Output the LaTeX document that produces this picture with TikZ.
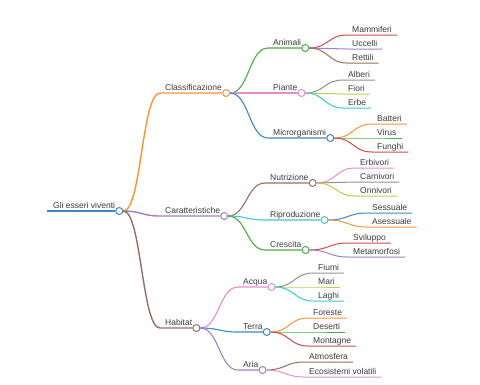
\documentclass[tikz,border=0pt]{standalone}
\usepackage{fontspec}
\setmainfont{Liberation Sans}
\usetikzlibrary{positioning,calc}

\definecolor{cblue}{HTML}{3A88C0}
\definecolor{corange}{HTML}{F99434}
\definecolor{cgreen}{HTML}{47AE47}
\definecolor{cred}{HTML}{D5484A}
\definecolor{cpurple}{HTML}{A17FC6}
\definecolor{cbrown}{HTML}{9A6D63}
\definecolor{cpink}{HTML}{E68DCB}
\definecolor{cgrey}{HTML}{929292}
\definecolor{colive}{HTML}{C6C743}
\definecolor{ccyan}{HTML}{3CC7D6}
\definecolor{ctext}{HTML}{3A3A3A}

\tikzset{
  lbl/.style={anchor=base west, inner sep=0pt, text=ctext, font=\fontsize{8.5}{10}\selectfont},
  dot/.style={circle, draw, fill=white, inner sep=0pt, minimum size=7pt, line width=1pt},
  link/.style={to path={let \p1=(\tikztostart), \p2=(\tikztotarget) in
      .. controls +({0.5*(\x2-\x1)},0) and +({-0.5*(\x2-\x1)},0) .. (\tikztotarget) \tikztonodes}},
  lvl0/.style={line width=2pt},
  lvl1/.style={line width=1.4pt},
  lvl2/.style={line width=1.1pt},
  lvl3/.style={line width=1pt}
}

\begin{document}
\begin{tikzpicture}[x=1pt,y=-1pt]
\useasboundingbox (0,0) rectangle (480,384);

% root
\coordinate (root-s) at (47,211);
\node[lbl] (root-t) at ($(root-s)+(6,-2.5)$) {Gli esseri viventi};
\node[dot, draw=cblue] (root) at ($(root-s -| root-t.east)+(4,0)$) {};
\draw[lvl0, cblue] (root-s) -- (root);

% first level
\foreach \id/\txt/\yy/\col in {cla/Classificazione/93/corange,
                               car/Caratteristiche/216/cpurple,
                               hab/Habitat/328/cbrown}{
  \coordinate (\id-s) at (160,\yy);
  \node[lbl] (\id-t) at ($(\id-s)+(5,-2.5)$) {\txt};
  \node[dot, draw=\col] (\id) at ($(\id-s -| \id-t.east)+(4,0)$) {};
  \draw[lvl1, color=\col] (root.east) to[link] (\id-s) -- (\id);
}

% second level
\foreach \up/\id/\txt/\xx/\yy/\col in {cla/ani/Animali/268/48/cgreen,
                                       cla/pia/Piante/268/93/cpink,
                                       cla/mic/Microrganismi/268/138/cblue,
                                       car/nut/Nutrizione/265/183/cbrown,
                                       car/rip/Riproduzione/265/220/ccyan,
                                       car/cre/Crescita/265/250/cgreen,
                                       hab/acq/Acqua/238/287/cpink,
                                       hab/ter/Terra/238/332/cblue,
                                       hab/ari/Aria/238/370/cpurple}{
  \coordinate (\id-s) at (\xx,\yy);
  \node[lbl] (\id-t) at ($(\id-s)+(5,-2.5)$) {\txt};
  \node[dot, draw=\col] (\id) at ($(\id-s -| \id-t.east)+(4,0)$) {};
  \draw[lvl2, color=\col] (\up.east) to[link] (\id-s) -- (\id);
}

% leaves
\foreach \up/\id/\txt/\xx/\yy/\col in {ani/mam/Mammiferi/347/35/cred,
                                       ani/ucc/Uccelli/347/49/cpurple,
                                       ani/ret/Rettili/347/63/cbrown,
                                       pia/alb/Alberi/343/80/cgrey,
                                       pia/fio/Fiori/343/94/colive,
                                       pia/erb/Erbe/343/108/ccyan,
                                       mic/bat/Batteri/372/124/corange,
                                       mic/vir/Virus/372/138/cgreen,
                                       mic/fun/Funghi/372/152/cred,
                                       nut/erv/Erbivori/355/168/cpink,
                                       nut/cnv/Carnivori/355/182/cgrey,
                                       nut/onn/Onnivori/355/196/colive,
                                       rip/ses/Sessuale/367/213/cblue,
                                       rip/ase/Asessuale/367/227/corange,
                                       cre/svi/Sviluppo/348/243/cred,
                                       cre/met/Metamorfosi/348/257/cpurple,
                                       acq/fiu/Fiumi/313/273/cgrey,
                                       acq/mar/Mari/313/287/colive,
                                       acq/lag/Laghi/313/301/ccyan,
                                       ter/fore/Foreste/308/318/corange,
                                       ter/des/Deserti/308/332/cgreen,
                                       ter/mon/Montagne/308/346/cred,
                                       ari/atm/Atmosfera/304/362/cbrown,
                                       ari/eco/Ecosistemi volatili/304/377/cpink}{
  \coordinate (\id-s) at (\xx,\yy);
  \node[lbl] (\id-t) at ($(\id-s)+(5,-2.5)$) {\txt};
  \draw[lvl3, color=\col] (\up.east) to[link] (\id-s) -- ($(\id-s -| \id-t.east)+(5,0)$);
}
\end{tikzpicture}
\end{document}
